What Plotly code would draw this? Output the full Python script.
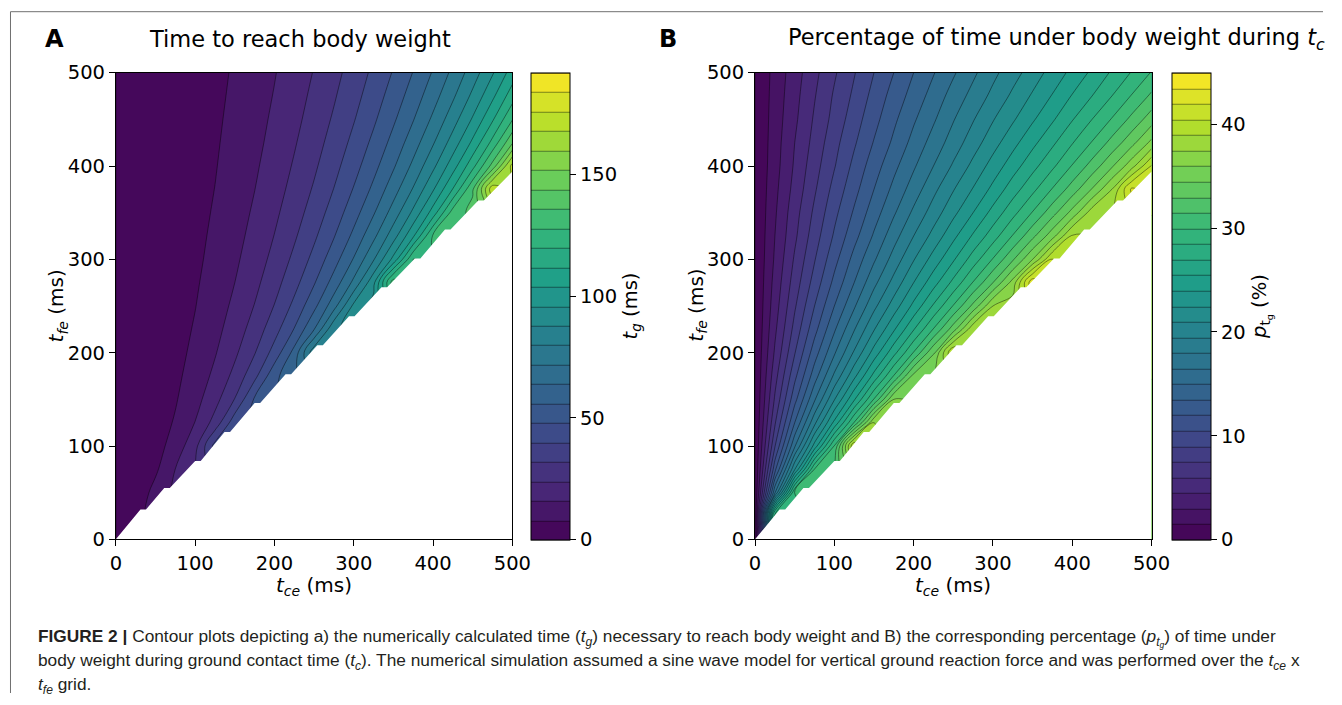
import plotly.graph_objects as go

# grid (ms)
t_ce = [0, 25, 50, 75, 100, 125, 150, 175, 200, 225, 250, 275, 300, 325, 350, 375, 400, 425, 450, 475, 500]
t_fe = [0, 25, 50, 75, 100, 125, 150, 175, 200, 225, 250, 275, 300, 325, 350, 375, 400, 425, 450, 475, 500]

# t_g (ms): one row per t_fe, values from t_ce = 0 up to the last valid t_ce
tg_rows = [
    [0],
    [0, 5.4],
    [0, 2.4, 10.8],
    [0, 1.6, 6.6, 16.1],
    [0, 1.2, 4.9, 11.3, 21.5, 42.7],
    [0, 1, 3.9, 8.8, 16.2, 26.9, 45],
    [0, 0.8, 3.3, 7.3, 13.2, 21.2, 32.3, 49.1],
    [0, 0.7, 2.8, 6.3, 11.2, 17.8, 26.3, 37.7, 53.8],
    [0, 0.6, 2.5, 5.5, 9.8, 15.4, 22.5, 31.5, 43.1, 58.7, 85.5],
    [0, 0.6, 2.2, 4.9, 8.7, 13.6, 19.8, 27.4, 36.8, 48.4, 63.8, 86.8],
    [0, 0.5, 2, 4.4, 7.8, 12.2, 17.7, 24.3, 32.3, 42, 53.8, 68.9, 90],
    [0, 0.5, 1.8, 4, 7.1, 11.1, 16, 21.9, 29, 37.3, 47.3, 59.2, 74, 93.9, 132.9],
    [0, 0.4, 1.6, 3.7, 6.5, 10.1, 14.6, 20, 26.3, 33.8, 42.4, 52.6, 64.6, 79.3, 98.3, 128.2],
    [0, 0.4, 1.5, 3.4, 6, 9.4, 13.5, 18.4, 24.2, 30.9, 38.6, 47.5, 57.9, 70, 84.5, 102.8, 129.1],
    [0, 0.4, 1.4, 3.2, 5.6, 8.7, 12.5, 17.1, 22.4, 28.5, 35.5, 43.5, 52.7, 63.2, 75.4, 89.8, 107.6, 131.7],
    [0, 0.3, 1.3, 3, 5.2, 8.1, 11.7, 15.9, 20.8, 26.5, 32.9, 40.2, 48.5, 57.8, 68.5, 80.7, 95.1, 112.4, 135, 173.9],
    [0, 0.3, 1.2, 2.8, 4.9, 7.6, 11, 14.9, 19.5, 24.8, 30.7, 37.5, 45, 53.5, 63, 73.8, 86.1, 100.4, 117.4, 138.9, 171],
    [0, 0.3, 1.2, 2.6, 4.6, 7.2, 10.3, 14, 18.3, 23.3, 28.8, 35.1, 42.1, 49.9, 58.6, 68.3, 79.2, 91.5, 105.7, 122.4, 143],
    [0, 0.3, 1.1, 2.5, 4.4, 6.8, 9.8, 13.3, 17.3, 21.9, 27.2, 33, 39.5, 46.7, 54.8, 63.6, 73.5, 84.5, 96.9, 111, 127.5],
    [0, 0.3, 1, 2.3, 4.1, 6.4, 9.3, 12.6, 16.4, 20.8, 25.7, 31.2, 37.3, 44, 51.5, 59.7, 68.7, 78.7, 89.8, 102.3, 116.3],
    [0, 0.3, 1, 2.2, 3.9, 6.1, 8.8, 11.9, 15.6, 19.7, 24.4, 29.6, 35.3, 41.7, 48.6, 56.3, 64.7, 73.9, 84, 95.2, 107.6],
]

# p_tg (%): same layout
p_rows = [
    [0],
    [0, 30.1],
    [0, 16.3, 30.1],
    [0, 11.5, 20.9, 30.1],
    [0, 8.9, 16.3, 23.1, 30.1, 40.6],
    [0, 7.3, 13.5, 19.1, 24.4, 30.1, 37.5],
    [0, 6.2, 11.5, 16.3, 20.9, 25.3, 30.1, 36],
    [0, 5.4, 10.1, 14.3, 18.3, 22.1, 26, 30.1, 35],
    [0, 4.7, 8.9, 12.8, 16.3, 19.7, 23.1, 26.5, 30.1, 34.3, 40.6],
    [0, 4.2, 8, 11.5, 14.8, 17.9, 20.9, 23.8, 26.9, 30.1, 33.8, 38.7],
    [0, 3.8, 7.3, 10.5, 13.5, 16.3, 19.1, 21.7, 24.4, 27.2, 30.1, 33.4, 37.5],
    [0, 3.5, 6.7, 9.6, 12.4, 15, 17.6, 20, 22.5, 24.9, 27.4, 30.1, 33, 36.6, 43.2],
    [0, 3.2, 6.2, 8.9, 11.5, 14, 16.3, 18.6, 20.9, 23.1, 25.3, 27.7, 30.1, 32.8, 36, 40.6],
    [0, 3, 5.7, 8.3, 10.7, 13, 15.2, 17.4, 19.5, 21.5, 23.6, 25.7, 27.8, 30.1, 32.6, 35.4, 39.2],
    [0, 2.8, 5.4, 7.8, 10.1, 12.2, 14.3, 16.3, 18.3, 20.2, 22.1, 24, 26, 28, 30.1, 32.4, 35, 38.3],
    [0, 2.6, 5, 7.3, 9.5, 11.5, 13.5, 15.4, 17.2, 19.1, 20.9, 22.6, 24.4, 26.3, 28.1, 30.1, 32.2, 34.6, 37.5, 42.3],
    [0, 2.4, 4.7, 6.9, 8.9, 10.9, 12.8, 14.6, 16.3, 18, 19.7, 21.4, 23.1, 24.8, 26.5, 28.2, 30.1, 32.1, 34.3, 36.9, 40.6],
    [0, 2.3, 4.5, 6.5, 8.5, 10.3, 12.1, 13.8, 15.5, 17.1, 18.7, 20.3, 21.9, 23.5, 25.1, 26.7, 28.4, 30.1, 32, 34, 36.4],
    [0, 2.2, 4.2, 6.2, 8, 9.8, 11.5, 13.2, 14.8, 16.3, 17.9, 19.4, 20.9, 22.3, 23.8, 25.3, 26.9, 28.5, 30.1, 31.9, 33.8],
    [0, 2.1, 4, 5.9, 7.7, 9.3, 11, 12.6, 14.1, 15.6, 17.1, 18.5, 19.9, 21.3, 22.7, 24.1, 25.6, 27, 28.5, 30.1, 31.8],
    [0, 2, 3.8, 5.6, 7.3, 8.9, 10.5, 12, 13.5, 14.9, 16.3, 17.7, 19.1, 20.4, 21.7, 23.1, 24.4, 25.8, 27.2, 28.6, 30.1],
]

# lower edge of the simulated region (staircase)
edge_tce = [0, 31, 38, 61, 68, 100, 107, 137, 144, 175, 182, 214, 221, 254, 261, 294, 301, 335, 342, 377, 384, 415, 422, 457, 464, 499, 500]
edge_tfe = [0, 32, 32, 55, 55, 84, 84, 115, 115, 146, 146, 177, 177, 208, 208, 239, 239, 270, 270, 301, 301, 332, 332, 363, 363, 394, 394]

tg_ticks = [0, 50, 100, 150]
p_ticks = [0, 10, 20, 30, 40]
axis_ticks = [0, 100, 200, 300, 400, 500]


def pad(rows, n):
    return [r + [None] * (n - len(r)) for r in rows]


TG = pad(tg_rows, len(t_ce))
PT = pad(p_rows, len(t_ce))

W, H = 1342, 705
# map picture-pixel targets to paper fractions (compensates the photo's framing)
SX, OX, SY, OY = 0.9826, 5.0, 0.968, 11.3
def px(x): return ((x - OX) / SX) / W
def py(y): return 1 - ((y - OY) / SY) / H

FONT = "DejaVu Sans"
tick_font = dict(family=FONT, size=19.5, color="black")
LINE = dict(color="rgba(0,0,0,0.85)", width=0.5)

def cbar(x_left, ticks, title):
    return dict(x=px(x_left), xanchor="left", xpad=0, ypad=0,
                y=(py(73) + py(540)) / 2, yanchor="middle",
                len=py(73) - py(540), lenmode="fraction",
                thickness=39, thicknessmode="pixels",
                outlinecolor="black", outlinewidth=1,
                tickvals=ticks, ticks="outside", ticklen=6, tickcolor="black",
                tickfont=tick_font,
                title=dict(text=title, side="right", font=dict(family=FONT, size=19.5, color="black")))

fig = go.Figure()
fig.add_trace(go.Contour(
    x=t_ce, y=t_fe, z=TG, xaxis="x", yaxis="y",
    colorscale="Viridis", zmin=0, zmax=192, autocontour=False,
    contours=dict(start=0, end=192, size=8, coloring="fill", showlines=True),
    line=LINE, connectgaps=True, hoverinfo="skip",
    colorbar=cbar(531, tg_ticks, "<i>t</i><sub><i>g</i></sub> (ms)"),
))
fig.add_trace(go.Scatter(x=edge_tce, y=edge_tfe, xaxis="x", yaxis="y", mode="lines",
                         line=dict(width=0, color="white"), fill="tozeroy",
                         fillcolor="white", hoverinfo="skip", showlegend=False))
fig.add_trace(go.Contour(
    x=t_ce, y=t_fe, z=PT, xaxis="x2", yaxis="y2",
    colorscale="Viridis", zmin=0, zmax=45, autocontour=False,
    contours=dict(start=0, end=45, size=1.5, coloring="fill", showlines=True),
    line=LINE, connectgaps=True, hoverinfo="skip",
    colorbar=cbar(1172, p_ticks, "<i>p</i><sub>t<sub>g</sub></sub> (%)"),
))
fig.add_trace(go.Scatter(x=edge_tce, y=edge_tfe, xaxis="x2", yaxis="y2", mode="lines",
                         line=dict(width=0, color="white"), fill="tozeroy",
                         fillcolor="white", hoverinfo="skip", showlegend=False))

ax_common = dict(range=[0, 500], tickvals=axis_ticks, ticks="outside",
                 ticklen=6, tickcolor="black", showline=True, linecolor="black", linewidth=1,
                 mirror=True, showgrid=False, zeroline=False, tickfont=tick_font)

fig.update_layout(
    autosize=True, margin=dict(l=0, r=0, t=0, b=0),
    paper_bgcolor="white", plot_bgcolor="white", showlegend=False,
    font=dict(family=FONT, color="black"),
    xaxis=dict(domain=[px(115), px(512)], anchor="y", **ax_common),
    yaxis=dict(domain=[py(540), py(73)], anchor="x", **ax_common),
    xaxis2=dict(domain=[px(755), px(1152)], anchor="y2", **ax_common),
    yaxis2=dict(domain=[py(540), py(73)], anchor="x2", **ax_common),
)

XT = "<i>t</i><sub><i>ce</i></sub> (ms)"
YT = "<i>t</i><sub><i>fe</i></sub> (ms)"
ann = [
    dict(text="<b>A</b>", x=px(42), y=py(39), xanchor="left", yanchor="middle",
         font=dict(family=FONT, size=24, color="black")),
    dict(text="Time to reach body weight", x=px(146), y=py(39), xanchor="left", yanchor="middle",
         font=dict(family=FONT, size=22.5, color="black")),
    dict(text="<b>B</b>", x=px(657), y=py(39), xanchor="left", yanchor="middle",
         font=dict(family=FONT, size=24, color="black")),
    dict(text="Percentage of time under body weight during <i>t</i><sub><i>c</i></sub>",
         x=px(786), y=py(39), xanchor="left", yanchor="middle",
         font=dict(family=FONT, size=22.5, color="black")),
    dict(text=XT, x=px(313), y=py(587), xanchor="center", yanchor="middle",
         font=dict(family=FONT, size=20, color="black")),
    dict(text=XT, x=px(953), y=py(587), xanchor="center", yanchor="middle",
         font=dict(family=FONT, size=20, color="black")),
    dict(text=YT, x=px(56), y=py(306), xanchor="center", yanchor="middle", textangle=-90,
         font=dict(family=FONT, size=20, color="black")),
    dict(text=YT, x=px(696), y=py(306), xanchor="center", yanchor="middle", textangle=-90,
         font=dict(family=FONT, size=20, color="black")),
]
CAP = "Liberation Sans, Arial, sans-serif"
cap_lines = [
    "<b>FIGURE 2 |</b> Contour plots depicting a) the numerically calculated time (<i>t<sub>g</sub></i>) necessary to reach body weight and B) the corresponding percentage (<i>p<sub>t<sub>g</sub></sub></i>) of time under",
    "body weight during ground contact time (<i>t<sub>c</sub></i>). The numerical simulation assumed a sine wave model for vertical ground reaction force and was performed over the <i>t<sub>ce</sub></i> x",
    "<i>t<sub>fe</sub></i> grid.",
]
for i, line in enumerate(cap_lines):
    ann.append(dict(text=line, x=px(35), y=py(639 + 23.5 * i), xanchor="left", yanchor="middle",
                    font=dict(family=CAP, size=17.3, color="#231f20")))
for a in ann:
    a.update(xref="paper", yref="paper", showarrow=False)
fig.update_layout(annotations=ann)

fig.update_layout(shapes=[
    dict(type="line", xref="paper", yref="paper", x0=px(9.5), x1=px(9.5), y0=0, y1=min(1, py(12)),
         line=dict(color="#707070", width=1)),
    dict(type="line", xref="paper", yref="paper", x0=px(9.5), x1=1, y0=min(1, py(12)), y1=min(1, py(12)),
         line=dict(color="#707070", width=1)),
])

fig.write_html(
    "out.html",
    default_width="100vw", default_height="100vh",
    config={"displayModeBar": False, "responsive": True},
    post_script="document.body.style.margin='0px';document.body.style.overflow='hidden';"
                "Plotly.Plots.resize(document.getElementById('{plot_id}'));",
)
